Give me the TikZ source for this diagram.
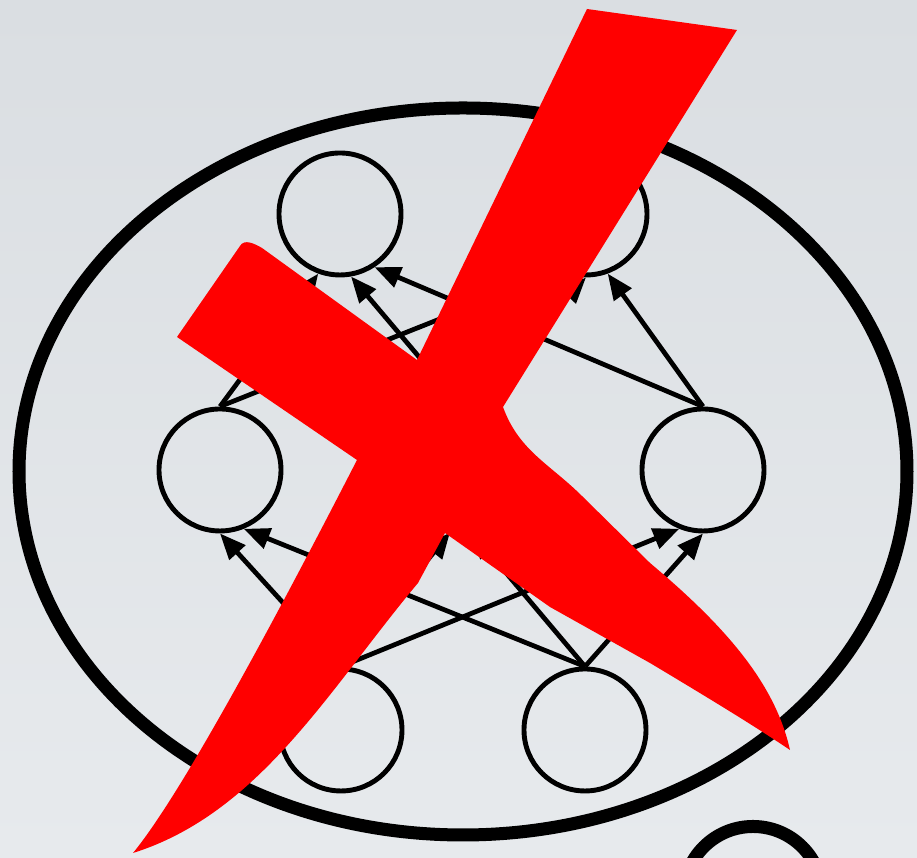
\documentclass[tikz,border=0pt]{standalone}
\definecolor{netPaperTop}{HTML}{DADEE2}
\definecolor{netPaperBot}{HTML}{E7EAED}
\definecolor{netCross}{HTML}{FF0000}
\usepackage{tikz}
\usetikzlibrary{
	arrows.meta,
	positioning
}
\tikzset{
	neuron/.style={circle, draw, line width=1.4pt, minimum size=1.22cm, inner sep=0pt},
	conn/.style={-{Triangle[length=2.6mm,width=2.1mm]}, line width=1.35pt},
	frame/.style={line width=3.7pt}
}

\begin{document}
\begin{tikzpicture}
		\clip (0,0) rectangle (9.17,8.58);
		\shade[top color=netPaperTop, bottom color=netPaperBot] (0,0) rectangle (9.17,8.58);
		% outer boundary and the cut-off neighbour
		\draw[frame] (4.63,3.865) ellipse [x radius=4.44, y radius=3.635];
		\draw[frame] (7.53,-0.38) circle (0.695);
		% layers
		\node[neuron] (in1) at (3.41,1.28) {};
		\node[neuron] (in2) at (5.85,1.28) {};
		\node[neuron] (hid1) at (2.20,3.88) {};
		\node[neuron] (hid2) at (4.61,3.88) {};
		\node[neuron] (hid3) at (7.03,3.88) {};
		\node[neuron] (out1) at (3.40,6.44) {};
		\node[neuron] (out2) at (5.86,6.44) {};
		% edges end near the south side of the upper node
		\foreach \a/\b/\ang in {in1/hid1/-90,in1/hid2/-100,in1/hid3/-112,
			in2/hid1/-68,in2/hid2/-80,in2/hid3/-90,
			hid1/out1/-110,hid2/out1/-80,hid3/out1/-57,
			hid1/out2/-115,hid2/out2/-90,hid3/out2/-70}{
			\draw[conn] (\a.north) -- (\b.\ang);
		}
		% the cross
		\fill[netCross] (5.87,8.49) -- (7.37,8.28) -- (5.03,4.51)
			to[out=-70,in=135] (5.83,3.61) -- (6.50,2.95)
			.. controls (7.25,2.32) and (7.75,1.75) .. (7.90,1.08)
			.. controls (7.50,1.35) and (7.00,1.65) .. (6.50,1.95)
			-- (5.50,2.51) -- (4.45,3.25) -- (4.18,2.75)
			.. controls (3.30,1.70) and (2.60,0.45) .. (1.33,0.05)
			.. controls (1.70,0.50) and (2.40,1.70) .. (3.57,3.98)
			-- (1.77,5.21) -- (2.40,6.12) to[out=60,in=150] (2.62,6.10)
			-- (4.17,4.98) -- cycle;
	\end{tikzpicture}
\end{document}
